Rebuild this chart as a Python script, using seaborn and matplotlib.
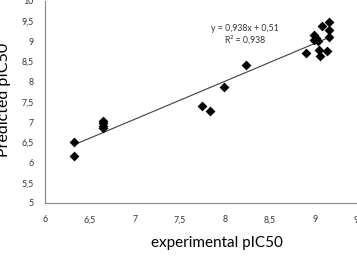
import numpy as np
import pandas as pd
import matplotlib
matplotlib.use("Agg")
import matplotlib.pyplot as plt
import seaborn as sns
from matplotlib.ticker import FuncFormatter, MultipleLocator

# values
experimental = [6.32, 6.32, 6.64, 6.64, 6.64, 6.64, 7.74, 7.83, 7.99, 8.23,
                8.90, 8.99, 9.01, 8.99, 9.03, 9.04, 9.05, 9.08, 9.13, 9.16, 9.16, 9.16]
predicted = [6.52, 6.16, 7.04, 6.98, 6.91, 6.85, 7.41, 7.28, 7.86, 8.41,
             8.71, 9.15, 9.08, 9.03, 9.02, 8.79, 8.64, 9.39, 8.75, 9.48, 9.28, 9.11]
slope = 0.938
intercept = 0.51
r2 = 0.938

df = pd.DataFrame({"exp": experimental, "pred": predicted})

sns.set_style("white")
plt.rcParams['font.family'] = ['Lato', 'DejaVu Sans']

fig = plt.figure(figsize=(3.57, 2.57), dpi=100)
ax = fig.add_axes([45/357, 54/257, 315/357, 202/257])

sns.scatterplot(data=df, x="exp", y="pred", marker="D", s=25, color="black",
                edgecolor="black", linewidth=0, ax=ax, zorder=3)

xs = np.array([min(experimental), max(experimental)])
sns.lineplot(x=xs, y=slope*xs + intercept, color="#404040", linewidth=0.8, ax=ax)

eq = "y = %sx + %s\nR² = %s" % (str(slope).replace(".", ","), str(intercept).replace(".", ","),
                                str(r2).replace(".", ","))
ax.text(8.22, 9.18, eq, ha="center", va="center", fontsize=6.3, color="#333333", linespacing=1.3)

ax.set_xlim(6, 9.5)
ax.set_ylim(5, 10)
ax.xaxis.set_major_locator(MultipleLocator(0.5))
ax.yaxis.set_major_locator(MultipleLocator(0.5))
fmt = FuncFormatter(lambda v, p: ("%g" % v).replace(".", ","))
ax.xaxis.set_major_formatter(fmt)
ax.yaxis.set_major_formatter(fmt)
ax.tick_params(axis="both", labelsize=6.3, colors="#868686", labelcolor="#333333",
               length=3, width=0.8, direction="out")
ax.tick_params(axis="x", pad=6)
ax.tick_params(axis="y", pad=5)

for s in ["top", "right"]:
    ax.spines[s].set_visible(False)
for s in ["left", "bottom"]:
    ax.spines[s].set_color("#868686")
    ax.spines[s].set_linewidth(0.8)

ax.set_xlabel("experimental pIC50", fontsize=11, color="black")
ax.set_ylabel("Predicted pIC50", fontsize=11.5, color="black")
ax.xaxis.set_label_coords(0.546, -0.198)
ax.yaxis.set_label_coords(-0.13, 0.51)
ax.xaxis.label.set_va("center")
ax.yaxis.label.set_va("center")

fig.savefig("out.png", dpi=100)
